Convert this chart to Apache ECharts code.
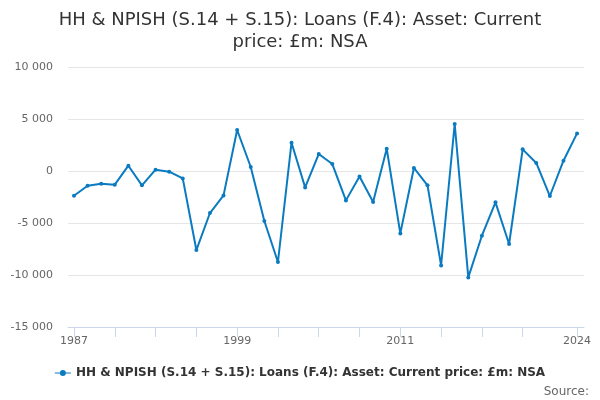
<!DOCTYPE html>
<html><head><meta charset="utf-8">
<script src="https://cdn.jsdelivr.net/npm/echarts@6/dist/echarts.min.js"></script>
<style>html,body{margin:0;padding:0;background:#fff}#c{width:600px;height:400px}</style>
</head><body><div id="c"></div>
<script>
const years = [1987,1988,1989,1990,1991,1992,1993,1994,1995,1996,1997,1998,1999,2000,2001,2002,2003,2004,2005,2006,2007,2008,2009,2010,2011,2012,2013,2014,2015,2016,2017,2018,2019,2020,2021,2022,2023,2024];
const values = [-2375,-1413,-1221,-1317,510,-1380,125,-67,-710,-7600,-4040,-2345,3940,385,-4810,-8750,2720,-1575,1630,670,-2825,-520,-2980,2145,-6000,290,-1380,-9075,4520,-10230,-6220,-3015,-7020,2080,770,-2405,990,3615];
const tickYears = [1987,1990,1993,1996,1999,2002,2005,2008,2011,2014,2017,2020,2024];
const labelYears = [1987,1999,2011,2024];
const seriesName = 'HH & NPISH (S.14 + S.15): Loans (F.4): Asset: Current price: £m: NSA';
const titleText = 'HH & NPISH (S.14 + S.15): Loans (F.4): Asset: Current\nprice: £m: NSA';

const chart = echarts.init(document.getElementById('c'));
const fmt = v => {
  const s = Math.abs(v).toString().replace(/\B(?=(\d{3})+(?!\d))/g, ' ');
  return (v < 0 ? '-' : '') + s;
};
chart.setOption({
  animation: false,
  textStyle: {fontFamily: 'DejaVu Sans'},
  title: {text: titleText, left: 'center', top: 4,
    textStyle: {fontSize: 18, fontWeight: 'normal', color: '#333', lineHeight: 22, fontFamily: 'DejaVu Sans'}},
  grid: {left: 68, right: 16, top: 67, bottom: 73},
  xAxis: {type: 'value', min: 1986.56, max: 2024.51,
    axisLine: {show: true, onZero: false, lineStyle: {color: '#ccd6eb'}},
    axisTick: {show: true, length: 10, lineStyle: {color: '#ccd6eb'}, customValues: tickYears},
    axisLabel: {color: '#666', fontSize: 11, margin: 9, customValues: labelYears, formatter: v => String(v)},
    splitLine: {show: false}},
  yAxis: {type: 'value', min: -15000, max: 10000, interval: 5000,
    axisLine: {show: false}, axisTick: {show: false},
    axisLabel: {color: '#666', fontSize: 11, margin: 15, formatter: fmt},
    splitLine: {lineStyle: {color: '#e6e6e6'}}},
  legend: {bottom: 16, left: 'center', itemWidth: 16, itemHeight: 6, itemGap: 5,
    icon: 'path://M0,2.5L16,2.5L16,3.5L0,3.5Z M8,0A3,3 0 1 1 7.99,0Z',
    textStyle: {fontSize: 12, fontWeight: 'bold', color: '#333'}},
  graphic: [{type: 'text', right: 11, bottom: 2, style: {text: 'Source:', fill: '#666', fontSize: 12, fontFamily: 'DejaVu Sans'}}],
  series: [{name: seriesName, type: 'line', data: years.map((y, i) => [y, values[i]]),
    lineStyle: {color: '#0a7bc1', width: 2}, itemStyle: {color: '#0a7bc1'},
    symbol: 'circle', symbolSize: 4, showSymbol: true}]
});
</script></body></html>
